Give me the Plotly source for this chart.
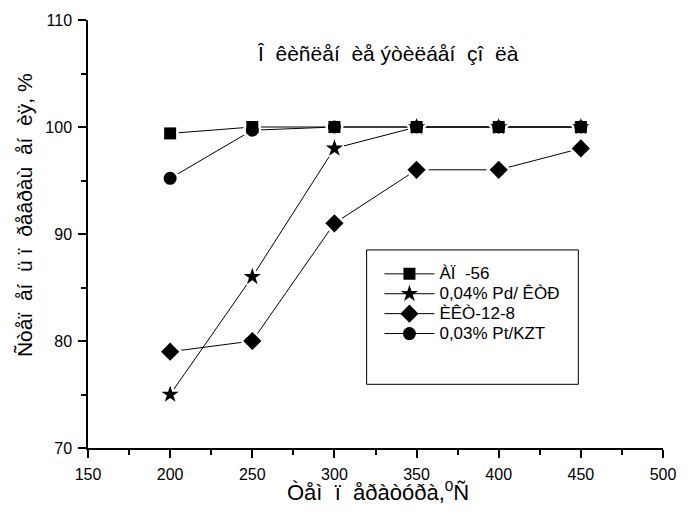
import plotly.graph_objects as go

# Temperature, degrees C
temperature = [200, 250, 300, 350, 400, 450]

# Conversion, % for each catalyst
conv_ap56 = [99.4, 100, 100, 100, 100, 100]
conv_pd_ktr = [75, 86, 98, 100, 100, 100]
conv_ikt = [79, 80, 91, 96, 96, 98]
conv_pt_kzt = [95.2, 99.7, 100, 100, 100, 100]

series_names = ["ÀÏ\u00a0\u00a0-56", "0,04% Pd/ ÊÒÐ", "ÈÊÒ-12-8", "0,03% Pt/KZT"]
series_values = [conv_ap56, conv_pd_ktr, conv_ikt, conv_pt_kzt]
series_symbols = ["square", "star", "diamond", "circle"]
series_sizes = [12, 13, 14, 13]

x_ticks = [150, 200, 250, 300, 350, 400, 450, 500]
y_ticks = [70, 80, 90, 100, 110]

G = "\u00a0\u00a0"
title_text = f"Î{G}êèñëåí{G}èå ýòèëáåí{G}çî{G}ëà"
x_title = f"Òåì{G}ï{G}åðàòóðà,<sup>0</sup>Ñ"
y_title = f"Ñòåï{G}åí{G}ü ï{G}ðåâðàù{G}åí{G}èÿ, %"

W, H = 688, 516
L, R, T, B = 88, 16, 18, 68
FONT = "Liberation Sans, Arial, sans-serif"

fig = go.Figure()

# connecting lines (with markers, so the legend shows line + symbol)
for name, vals, sym, sz in zip(series_names, series_values, series_symbols, series_sizes):
    fig.add_trace(go.Scatter(
        x=temperature, y=vals, name=f'<span style="font-size:17px">{name}</span>',
        mode="lines+markers",
        line=dict(color="black", width=1),
        marker=dict(symbol=sym, size=sz, color="black", line=dict(width=0)),
        cliponaxis=False,
    ))

# white halos open a small gap between each line and its markers
for vals, sym, sz in zip(series_values, series_symbols, series_sizes):
    fig.add_trace(go.Scatter(
        x=temperature, y=vals, mode="markers", showlegend=False, hoverinfo="skip",
        marker=dict(symbol=sym, size=sz, color="white", line=dict(color="white", width=5)),
        cliponaxis=False,
    ))

# solid markers on top
for vals, sym, sz in zip(series_values, series_symbols, series_sizes):
    fig.add_trace(go.Scatter(
        x=temperature, y=vals, mode="markers", showlegend=False, hoverinfo="skip",
        marker=dict(symbol=sym, size=sz, color="black", line=dict(width=0)),
        cliponaxis=False,
    ))

pw = W - L - R
ph = H - T - B


def px_x(p):
    return (p - L) / pw


def px_y(p):
    return (H - B - p) / ph


# legend frame
fig.add_shape(type="rect", xref="paper", yref="paper",
              x0=px_x(371), x1=px_x(586), y0=px_y(384), y1=px_y(249),
              line=dict(color="black", width=1), fillcolor="white", layer="above")

fig.add_annotation(text=title_text, xref="paper", yref="paper",
                   x=px_x(393), y=px_y(52), xanchor="center", yanchor="middle",
                   showarrow=False, font=dict(family=FONT, size=21, color="black"))
fig.add_annotation(text=x_title, xref="paper", yref="paper",
                   x=px_x(383), y=px_y(491), xanchor="center", yanchor="middle",
                   showarrow=False, font=dict(family=FONT, size=22, color="black"))
fig.add_annotation(text=y_title, xref="paper", yref="paper",
                   x=px_x(23), y=px_y(214), xanchor="center", yanchor="middle",
                   showarrow=False, textangle=-90,
                   font=dict(family=FONT, size=21, color="black"))

axis_common = dict(
    showgrid=False, zeroline=False, showline=True, linecolor="black", linewidth=1.5,
    ticks="outside", ticklen=8, tickwidth=1.5, tickcolor="black",
    tickfont=dict(family=FONT, size=16, color="black"),
    ticklabelstandoff=3,
    mirror=False,
)

fig.update_layout(
    width=W, height=H,
    margin=dict(l=L, r=R, t=T, b=B, pad=0),
    paper_bgcolor="white", plot_bgcolor="white",
    xaxis=dict(range=[150, 500], tickvals=x_ticks, ticktext=[str(v) for v in x_ticks],
               minor=dict(ticks="outside", ticklen=5, tickwidth=1.5, tickcolor="black", dtick=25),
               **axis_common),
    yaxis=dict(range=[70, 110], tickvals=y_ticks, ticktext=[str(v) for v in y_ticks],
               minor=dict(ticks="outside", ticklen=5, tickwidth=1.5, tickcolor="black", dtick=5),
               **axis_common),
    legend=dict(x=px_x(384), y=px_y(258), xanchor="left", yanchor="top",
                bgcolor="rgba(0,0,0,0)", borderwidth=0,
                font=dict(family=FONT, size=13, color="black"),
                tracegroupgap=0, itemwidth=50),
    showlegend=True,
)

fig.write_html("out.html")
